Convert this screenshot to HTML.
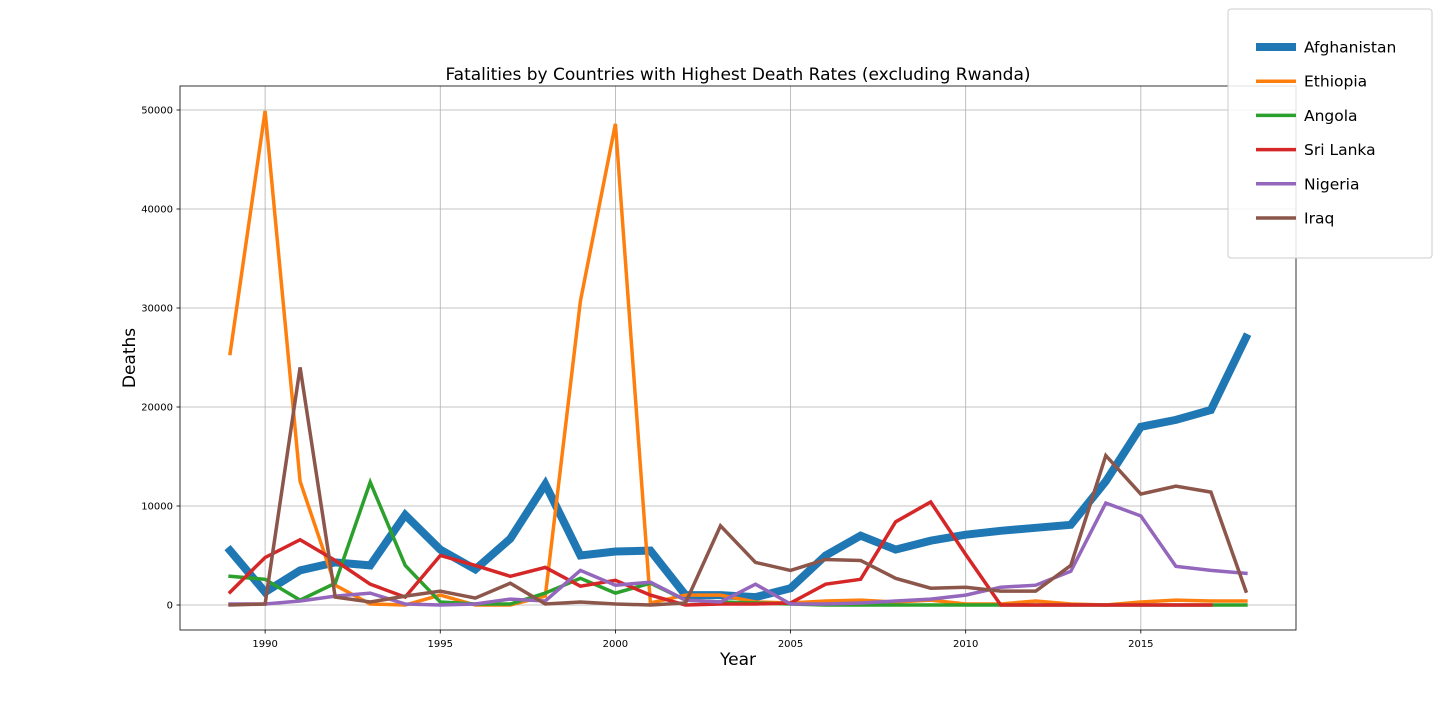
<!DOCTYPE html>
<html><head><meta charset="utf-8">
<style>
html,body{margin:0;padding:0;background:#fff;}
body{width:1440px;height:720px;overflow:hidden;font-family:"Liberation Sans","DejaVu Sans",sans-serif;}
</style></head>
<body>
<svg id="chart" width="1440" height="720" xmlns="http://www.w3.org/2000/svg" font-family="DejaVu Sans, Liberation Sans, sans-serif"></svg>
<script>
const years = [1989,1990,1991,1992,1993,1994,1995,1996,1997,1998,1999,2000,2001,2002,2003,2004,2005,2006,2007,2008,2009,2010,2011,2012,2013,2014,2015,2016,2017,2018];
const afghanistan = [5500,1300,3500,4300,4000,9100,5600,3600,6700,12200,5000,5400,5500,1000,1000,800,1700,5000,7000,5600,6500,7100,7500,7800,8100,12500,18000,18700,19700,27000];
const ethiopia = [25400,49900,12500,2000,100,0,1000,0,0,900,30700,48600,200,1000,1000,300,200,400,500,300,500,100,100,400,100,0,300,500,400,400];
const angola = [2900,2600,500,2200,12400,4000,300,100,100,1200,2700,1200,2200,500,300,200,100,0,0,0,0,0,0,0,0,0,0,0,0,0];
const sriLanka = [1300,4800,6600,4500,2100,800,5000,4000,2900,3800,1900,2500,1000,0,100,100,200,2100,2600,8400,10400,5100,0,0,0,0,0,0,0,null];
const nigeria = [100,100,400,900,1200,100,0,100,600,400,3500,2000,2300,500,300,2100,100,100,200,400,600,1000,1800,2000,3400,10300,9000,3900,3500,3200];
const iraq = [0,100,24000,800,300,900,1400,700,2200,100,300,100,0,200,8000,4300,3500,4600,4500,2700,1700,1800,1400,1400,4000,15100,11200,12000,11400,1400];
const xTicks = [1990,1995,2000,2005,2010,2015];
const yTicks = [0,10000,20000,30000,40000,50000];
const seriesNames = ["Afghanistan","Ethiopia","Angola","Sri Lanka","Nigeria","Iraq"];
const seriesData = [afghanistan,ethiopia,angola,sriLanka,nigeria,iraq];
const colors = ["#1f77b4","#ff7f0e","#2ca02c","#d62728","#9467bd","#8c564b"];
const widths = [8,3.5,3.5,3.5,3.5,3.5];

const L=180,R=1296,T=86,B=630;
const x0=1987.57,x1=2019.43,y0=-2525,y1=52424;
const sx=v=>L+(v-x0)/(x1-x0)*(R-L);
const sy=v=>B-(v-y0)/(y1-y0)*(B-T);
const NS="http://www.w3.org/2000/svg";
const svg=document.getElementById('chart');
function mk(tag,attrs,parent){const e=document.createElementNS(NS,tag);for(const k in attrs)e.setAttribute(k,attrs[k]);(parent||svg).appendChild(e);return e;}

// grid
xTicks.forEach(t=>{
  const g=mk('line',{x1:sx(t),x2:sx(t),y1:T,y2:B,stroke:'#b0b0b0','stroke-width':0.8});
  
  
  const tk=mk('line',{x1:sx(t),x2:sx(t),y1:B,y2:B+3.5,stroke:'#000','stroke-width':0.8});
  
  
  const tx=mk('text',{x:sx(t),y:B+17,'text-anchor':'middle','font-size':10,fill:'#000'});
  tx.textContent=t;
  
  
});
yTicks.forEach(t=>{
  const g=mk('line',{x1:L,x2:R,y1:sy(t),y2:sy(t),stroke:'#b0b0b0','stroke-width':0.8});
  
  
  const tk=mk('line',{x1:L-3.5,x2:L,y1:sy(t),y2:sy(t),stroke:'#000','stroke-width':0.8});
  
  
  const tx=mk('text',{x:L-7,y:sy(t)+3.5,'text-anchor':'end','font-size':10,fill:'#000'});
  tx.textContent=t;
  
  
});

// series
seriesData.forEach((d,i)=>{
  let segs=[],cur=[];
  d.forEach((v,j)=>{ if(v===null){if(cur.length)segs.push(cur);cur=[];} else cur.push(sx(years[j]).toFixed(1)+','+sy(v).toFixed(1)); });
  if(cur.length)segs.push(cur);
  segs.forEach(s=>{
    const p=mk('polyline',{points:s.join(' '),fill:'none',stroke:colors[i],'stroke-width':widths[i],'stroke-linejoin':'miter','stroke-linecap':'square'});
    
    
  });
});

// frame
const fr=mk('rect',{x:L,y:T,width:R-L,height:B-T,fill:'none',stroke:'#000','stroke-width':0.8});



const title=mk('text',{x:(L+R)/2,y:80,'text-anchor':'middle','font-size':17,fill:'#000'});
title.textContent='Fatalities by Countries with Highest Death Rates (excluding Rwanda)';


const xl=mk('text',{x:(L+R)/2,y:665,'text-anchor':'middle','font-size':17,fill:'#000'});
xl.textContent='Year';


const yl=mk('text',{x:135,y:(T+B)/2,'text-anchor':'middle','font-size':17,fill:'#000',transform:'rotate(-90 135 '+((T+B)/2)+')'});
yl.textContent='Deaths';



// legend
const lg=mk('rect',{x:1228,y:9,width:204,height:249,rx:3,fill:'#fff','fill-opacity':0.85,stroke:'#ccc','stroke-width':1});


seriesNames.forEach((n,i)=>{
  const y=47+i*34.2;
  const l=mk('line',{x1:1256,x2:1296,y1:y,y2:y,stroke:colors[i],'stroke-width':widths[i]});
  
  
  const t=mk('text',{x:1304,y:y+5.5,'font-size':15.5,fill:'#000'});
  t.textContent=n;
  
  
});
</script>
</body></html>
